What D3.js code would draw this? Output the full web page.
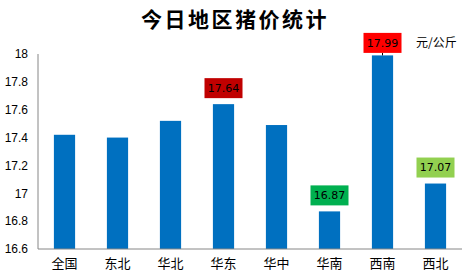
<!DOCTYPE html>
<meta charset="utf-8">
<style>
body { margin: 0; background: #fff; }
.axis path, .axis line { stroke: #868686; }
.axis text { fill: #000; }
.bar { fill: #0070c0; }
</style>
<svg width="463" height="276"></svg>
<script src="https://d3js.org/d3.v7.min.js"></script>
<script>

var regions = ["全国", "东北", "华北", "华东", "华中", "华南", "西南", "西北"];
var prices = [17.42, 17.40, 17.52, 17.64, 17.49, 16.87, 17.99, 17.07];
var yTicks = [16.6, 16.8, 17, 17.2, 17.4, 17.6, 17.8, 18];

// highlighted values: which region, box colour, gap above bar
var tagRegions = ["华东", "西南", "华南", "西北"];
var tagColors = ["#c00000", "#ff0000", "#00b050", "#92d050"];
var tagGaps = [6, 2.5, 6, 6];

var svg = d3.select("svg"),
    margin = {top: 54, right: 1, bottom: 27, left: 38},
    width = +svg.attr("width") - margin.left - margin.right,
    height = +svg.attr("height") - margin.top - margin.bottom;

var x = d3.scaleBand().domain(regions).range([0, width])
    .paddingInner(0.6).paddingOuter(0.3);
var y = d3.scaleLinear().domain([16.6, 18]).range([height, 0]);

svg.append("text")
    .attr("x", 235)
    .attr("y", 20)
    .attr("dy", "0.35em")
    .attr("text-anchor", "middle")
    .style("font-family", "'Noto Sans CJK SC', sans-serif")
    .style("font-weight", "bold")
    .style("font-size", "21px")
    .style("letter-spacing", "2.5px")
    .text("今日地区猪价统计");

var g = svg.append("g")
    .attr("transform", "translate(" + margin.left + "," + margin.top + ")");

g.selectAll(".bar")
  .data(regions)
  .enter().append("rect")
    .attr("class", "bar")
    .attr("x", function(d) { return x(d); })
    .attr("y", function(d, i) { return y(prices[i]); })
    .attr("width", x.bandwidth())
    .attr("height", function(d, i) { return height - y(prices[i]); });

g.append("g")
    .attr("class", "axis axis--y")
    .call(d3.axisLeft(y).tickValues(yTicks).tickSize(0).tickPadding(10)
      .tickFormat(d3.format("~g")))
    .call(function(a) { a.select(".domain").attr("d", "M0,0V" + height); })
    .selectAll("text")
    .style("font-family", "'Liberation Sans', Arial, sans-serif")
    .style("font-size", "12px");

g.append("g")
    .attr("class", "axis axis--x")
    .attr("transform", "translate(0," + height + ")")
    .call(d3.axisBottom(x).tickSize(0).tickPadding(10))
    .call(function(a) { a.select(".domain").attr("d", "M0,0H" + width); })
    .selectAll("text")
    .style("font-family", "'Noto Sans CJK SC', sans-serif")
    .style("font-size", "13px");

// value tags
var bw = 38, bh = 20;
tagRegions.forEach(function(r, k) {
  var i = regions.indexOf(r),
      cx = x(r) + x.bandwidth() / 2,
      top = y(prices[i]),
      by = top - tagGaps[k] - bh;
  if (tagGaps[k] < 5) {
    g.append("line")
        .attr("x1", cx).attr("x2", cx)
        .attr("y1", by + bh).attr("y2", top)
        .attr("stroke", "#000").attr("stroke-width", 1);
  }
  g.append("rect")
      .attr("x", cx - bw / 2)
      .attr("y", by)
      .attr("width", bw)
      .attr("height", bh)
      .attr("fill", tagColors[k]);
  g.append("text")
      .attr("x", cx)
      .attr("y", by + bh / 2)
      .attr("dy", "0.35em")
      .attr("text-anchor", "middle")
      .style("font-family", "'DejaVu Sans', sans-serif")
      .style("font-size", "11px")
      .text(d3.format(".2f")(prices[i]));
});

svg.append("text")
    .attr("x", 416)
    .attr("y", 43)
    .attr("dy", "0.35em")
    .style("font-family", "'Noto Sans CJK SC', sans-serif")
    .style("font-size", "12px")
    .text("元/公斤");

</script>
